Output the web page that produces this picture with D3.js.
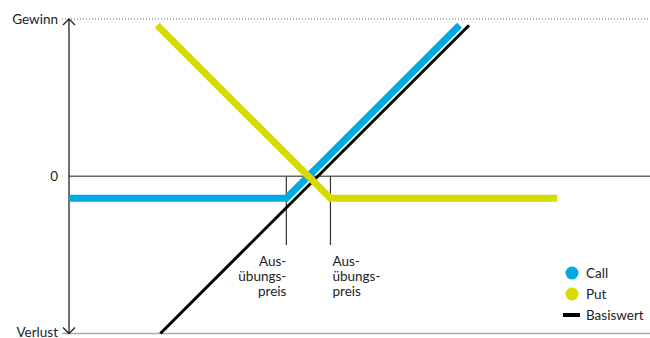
<!DOCTYPE html>
<html><head><meta charset="utf-8">
<script src="https://cdn.jsdelivr.net/npm/d3@7"></script>
<style>
html,body{margin:0;padding:0;background:#fff;}
svg text{font-family:Lato,"Open Sans",sans-serif;font-size:13.5px;fill:#222;}
</style></head>
<body>
<script>
// Data (underlying price on x, profit/loss on y)
const seriesNames = ["Call", "Put", "Basiswert"];
const callPoints = [[0, -1.4], [13.8, -1.4], [24.8, 9.6]];
const putPoints = [[5.6, 9.6], [16.6, -1.4], [31.0, -1.4]];
const basisPoints = [[5.8, -10], [25.4, 9.6]];
const strikes = [13.8, 16.6];
const strikeLabel = ["Aus-", "übungs-", "preis"];
const yTickValues = [10, 0, -10];
const yTickLabels = ["Gewinn", "0", "Verlust"];
const colors = {Call: "#00a9df", Put: "#d6db00", Basiswert: "#000000"};

const W = 650, H = 338;
const x = d3.scaleLinear().domain([0, 37]).range([69, 651.75]);
const y = d3.scaleLinear().domain([-10, 10]).range([333.5, 19]);

const svg = d3.select("body").append("svg").attr("width", W).attr("height", H);

// top dotted gain line
svg.append("line").attr("x1", 62).attr("x2", W).attr("y1", y(10)).attr("y2", y(10))
  .attr("stroke", "#666").attr("stroke-width", 1).attr("stroke-dasharray", "1,2");
// bottom loss line
svg.append("line").attr("x1", 62).attr("x2", W).attr("y1", y(-10)).attr("y2", y(-10))
  .attr("stroke", "#aaa").attr("stroke-width", 1.5);
// zero line
svg.append("line").attr("x1", x(0)).attr("x2", W).attr("y1", y(0)).attr("y2", y(0))
  .attr("stroke", "#666").attr("stroke-width", 1.5);

// y axis
svg.append("line").attr("x1", x(0)).attr("x2", x(0)).attr("y1", y(10)).attr("y2", y(-10))
  .attr("stroke", "#222").attr("stroke-width", 1.3);
svg.append("path").attr("d", `M${x(0)-6},${y(10)+6}L${x(0)},${y(10)}L${x(0)+6},${y(10)+6}`)
  .attr("fill", "none").attr("stroke", "#222").attr("stroke-width", 1.3);
svg.append("path").attr("d", `M${x(0)-6},${y(-10)-6}L${x(0)},${y(-10)}L${x(0)+6},${y(-10)-6}`)
  .attr("fill", "none").attr("stroke", "#222").attr("stroke-width", 1.3);

// y labels
svg.selectAll("text.ylab").data(yTickValues).enter().append("text")
  .attr("class", "ylab").attr("x", 58).attr("y", (d, i) => i === 2 ? H - 1.5 : y(d) + 4.5)
  .attr("text-anchor", "end").text((d, i) => yTickLabels[i]);

// strike lines
svg.selectAll("line.strike").data(strikes).enter().append("line")
  .attr("class", "strike").attr("x1", d => x(d)).attr("x2", d => x(d))
  .attr("y1", y(0)).attr("y2", 245).attr("stroke", "#333").attr("stroke-width", 1.2);

strikes.forEach((s, i) => {
  const t = svg.append("text")
    .attr("text-anchor", i === 0 ? "end" : "start")
    .attr("x", i === 0 ? x(s) : x(s) + 2).attr("y", 266);
  strikeLabel.forEach((w, j) => {
    t.append("tspan").attr("x", i === 0 ? x(s) : x(s) + 2).attr("dy", j === 0 ? 0 : 15).text(w);
  });
});

const line = d3.line().x(d => x(d[0])).y(d => y(d[1]));
svg.append("path").datum(basisPoints).attr("d", line).attr("fill", "none")
  .attr("stroke", colors.Basiswert).attr("stroke-width", 3);
svg.append("path").datum(callPoints).attr("d", line).attr("fill", "none")
  .attr("stroke", colors.Call).attr("stroke-width", 7);
svg.append("path").datum(putPoints).attr("d", line).attr("fill", "none")
  .attr("stroke", colors.Put).attr("stroke-width", 7);

// legend
const lg = svg.append("g").attr("transform", "translate(572,273)");
seriesNames.forEach((n, i) => {
  const g = lg.append("g").attr("transform", `translate(0,${i * 21})`);
  if (n === "Basiswert") {
    g.append("rect").attr("x", -9).attr("y", -2).attr("width", 17).attr("height", 4).attr("fill", colors[n]);
  } else {
    g.append("circle").attr("r", 6.5).attr("fill", colors[n]);
  }
  g.append("text").attr("x", 14).attr("y", 4.5).text(n);
});
</script>
</body></html>
